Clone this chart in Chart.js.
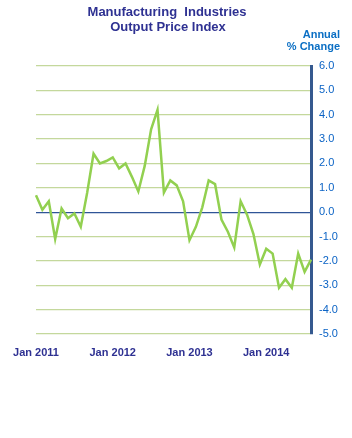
<!DOCTYPE html>
<html>
<head>
<meta charset="utf-8">
<script src="https://cdn.jsdelivr.net/npm/chart.js@4.4.1/dist/chart.umd.min.js"></script>
<style>
  html, body { margin: 0; padding: 0; background: #fff; }
  #wrap { width: 352px; height: 438px; position: relative; }
</style>
</head>
<body>
<div id="wrap"><canvas id="PriceChart"></canvas></div>
<script>
// month labels, Jan 2011 .. Aug 2014
var months = [
    'Jan 2011','Feb 2011','Mar 2011','Apr 2011','May 2011','Jun 2011','Jul 2011','Aug 2011','Sep 2011','Oct 2011','Nov 2011','Dec 2011',
    'Jan 2012','Feb 2012','Mar 2012','Apr 2012','May 2012','Jun 2012','Jul 2012','Aug 2012','Sep 2012','Oct 2012','Nov 2012','Dec 2012',
    'Jan 2013','Feb 2013','Mar 2013','Apr 2013','May 2013','Jun 2013','Jul 2013','Aug 2013','Sep 2013','Oct 2013','Nov 2013','Dec 2013',
    'Jan 2014','Feb 2014','Mar 2014','Apr 2014','May 2014','Jun 2014','Jul 2014','Aug 2014'
];
// annual % change
var annualChange = [
    0.7, 0.1, 0.45, -1.1, 0.15, -0.25, -0.05, -0.6, 0.8, 2.4, 2.0, 2.1,
    2.25, 1.8, 2.0, 1.45, 0.85, 1.9, 3.4, 4.2, 0.8, 1.3, 1.1, 0.45,
    -1.15, -0.6, 0.2, 1.3, 1.15, -0.3, -0.8, -1.45, 0.45, -0.1, -0.9, -2.15,
    -1.5, -1.7, -3.1, -2.75, -3.1, -1.7, -2.45, -1.95
];
var yTicks = [-5, -4, -3, -2, -1, 0, 1, 2, 3, 4, 5, 6];
var titleLines = ['Manufacturing  Industries', 'Output Price Index'];
var unitLines = ['Annual', '% Change'];

var FONT = "'Liberation Sans', Arial, sans-serif";

// titles drawn straight on the canvas
var headerText = {
    id: 'headerText',
    afterDraw: function (chart) {
        var c = chart.ctx;
        c.save();
        c.textBaseline = 'alphabetic';
        c.fillStyle = '#2e3192';
        c.font = 'bold 13px ' + FONT;
        c.textAlign = 'center';
        c.fillText(titleLines[0], 167, 16);
        c.fillText(titleLines[1], 168, 31);
        c.fillStyle = '#0b6fc4';
        c.font = 'bold 11px ' + FONT;
        c.textAlign = 'right';
        c.fillText(unitLines[0], 340, 38);
        c.fillText(unitLines[1], 340, 50);
        c.restore();
    }
};

var ctx = document.getElementById('PriceChart').getContext('2d');
var myLineChart = new Chart(ctx, {
    type: 'line',
    data: {
        labels: months,
        datasets: [{
            data: annualChange,
            borderColor: '#92d050',
            borderWidth: 2.5,
            pointRadius: 0,
            tension: 0,
            fill: false
        }]
    },
    options: {
        responsive: true,
        maintainAspectRatio: false,
        animation: false,
        layout: { padding: { left: 36, right: 0, top: 66, bottom: 74 } },
        plugins: {
            legend: { display: false },
            title: { display: false },
            tooltip: { enabled: false }
        },
        scales: {
            x: {
                offset: false,
                grid: { display: false, drawTicks: false },
                border: { display: false },
                ticks: {
                    autoSkip: false,
                    maxRotation: 0,
                    padding: 12,
                    color: '#2e3192',
                    font: { family: FONT, size: 11, weight: 'bold' },
                    callback: function (v, i) {
                        return (i % 12 === 0) ? months[i] : '';
                    }
                },
                afterFit: function (scale) { scale.height = 30; }
            },
            y: {
                position: 'right',
                min: yTicks[0],
                max: yTicks[yTicks.length - 1],
                afterBuildTicks: function (scale) {
                    scale.ticks = yTicks.map(function (v) { return { value: v }; });
                },
                grid: {
                    drawTicks: false,
                    color: function (c) {
                        return c.tick && c.tick.value === 0 ? '#2f5597' : '#c4d89c';
                    },
                    lineWidth: 1.2
                },
                border: { display: true, color: '#35598f', width: 3 },
                ticks: {
                    padding: 8,
                    color: '#0b63c5',
                    font: { family: FONT, size: 11 },
                    callback: function (v) { return Number(v).toFixed(1); }
                },
                afterFit: function (scale) { scale.width = 41; }
            }
        }
    },
    plugins: [headerText]
});
</script>
</body>
</html>
